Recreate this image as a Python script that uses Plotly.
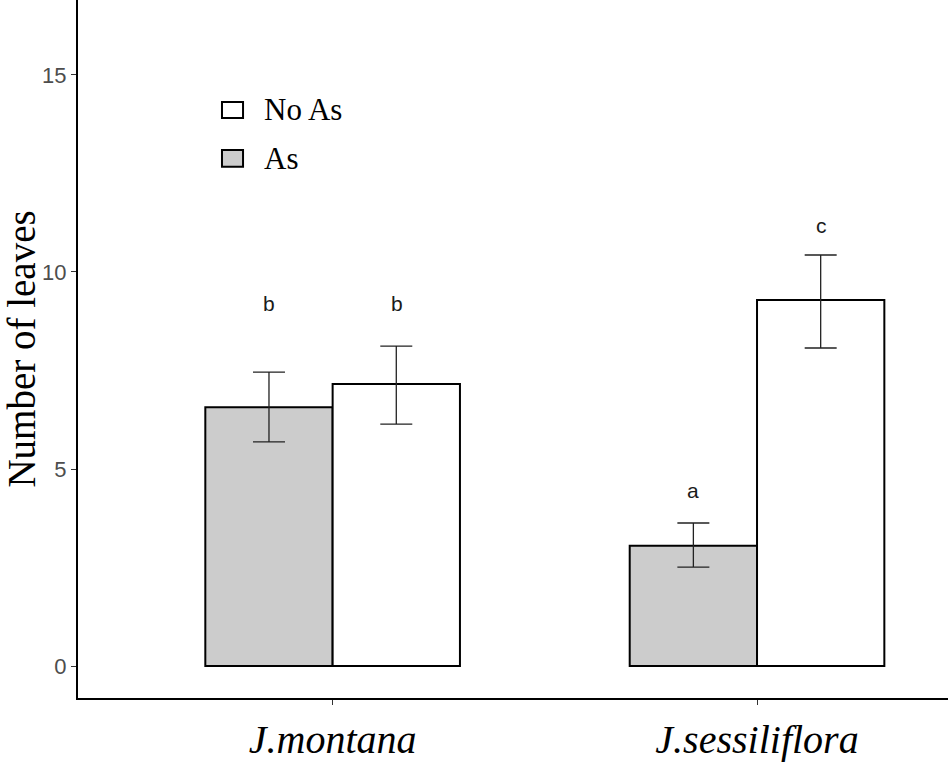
import plotly.graph_objects as go

species = ["J.montana", "J.sessiliflora"]
as_mean = [6.57, 3.05]
as_err_up = [0.89, 0.58]
as_err_down = [0.88, 0.54]
noas_mean = [7.16, 9.29]
noas_err_up = [0.96, 1.14]
noas_err_down = [1.02, 1.22]
letters_as = ["b", "a"]
letters_noas = ["b", "c"]
letter_y_as = [9.21, 4.45]
letter_y_noas = [9.21, 11.19]

AS_COLOR = "#cccccc"
NOAS_COLOR = "white"

fig = go.Figure()
fig.add_trace(go.Bar(
    name="As", x=species, y=as_mean, showlegend=False,
    marker=dict(color=AS_COLOR, line=dict(color="black", width=2)),
    error_y=dict(type="data", symmetric=False, array=as_err_up, arrayminus=as_err_down,
                 color="#222222", thickness=1.3, width=16),
))
fig.add_trace(go.Bar(
    name="No As", x=species, y=noas_mean, showlegend=False,
    marker=dict(color=NOAS_COLOR, line=dict(color="black", width=2)),
    error_y=dict(type="data", symmetric=False, array=noas_err_up, arrayminus=noas_err_down,
                 color="#222222", thickness=1.3, width=16),
))

# significance letters above each bar
for sp, lab, yv in zip(species, letters_as, letter_y_as):
    fig.add_annotation(x=sp, y=yv, text=lab, showarrow=False, xshift=-64,
                       font=dict(family="Arial", size=21, color="#1a1a1a"))
for sp, lab, yv in zip(species, letters_noas, letter_y_noas):
    fig.add_annotation(x=sp, y=yv, text=lab, showarrow=False, xshift=64,
                       font=dict(family="Arial", size=21, color="#1a1a1a"))

# legend drawn by hand so the keys can be as large as the original
legend_items = [("No As", NOAS_COLOR, 0.831, 0.854), ("As", AS_COLOR, 0.761, 0.785)]
for name, col, y0, y1 in legend_items:
    fig.add_shape(type="rect", xref="paper", yref="paper", x0=0.1655, x1=0.1897,
                  y0=y0, y1=y1, fillcolor=col, line=dict(color="black", width=2))
    fig.add_annotation(xref="paper", yref="paper", x=0.2115, y=(y0 + y1) / 2,
                       text=name, showarrow=False, xanchor="left", yanchor="middle",
                       font=dict(family="Liberation Serif", size=31, color="black"))

fig.update_layout(
    width=950, height=762,
    barmode="group", bargap=0.4, bargroupgap=0,
    plot_bgcolor="white", paper_bgcolor="white",
    margin=dict(l=78, r=2, t=0, b=64),
    xaxis=dict(range=[-0.6, 1.45], showline=True, linecolor="black", linewidth=2,
               ticks="outside", ticklen=5, tickcolor="#333333",
               tickfont=dict(family="Liberation Serif", size=40, color="black"),
               tickvals=species, ticktext=["<i>" + s + "</i>" for s in species]),
    yaxis=dict(range=[-0.81, 16.9], showline=True, linecolor="black", linewidth=2,
               showgrid=False, zeroline=False, tickvals=[0, 5, 10, 15],
               ticks="outside", ticklen=5, tickcolor="#333333",
               tickfont=dict(family="Arial", size=22, color="#4d4d4d"),
               title=dict(text="Number of leaves", standoff=8,
                          font=dict(family="Liberation Serif", size=39, color="black"))),
)

fig.write_html("out.html", config={"displayModeBar": False},
               post_script="document.body.style.margin='0';")
